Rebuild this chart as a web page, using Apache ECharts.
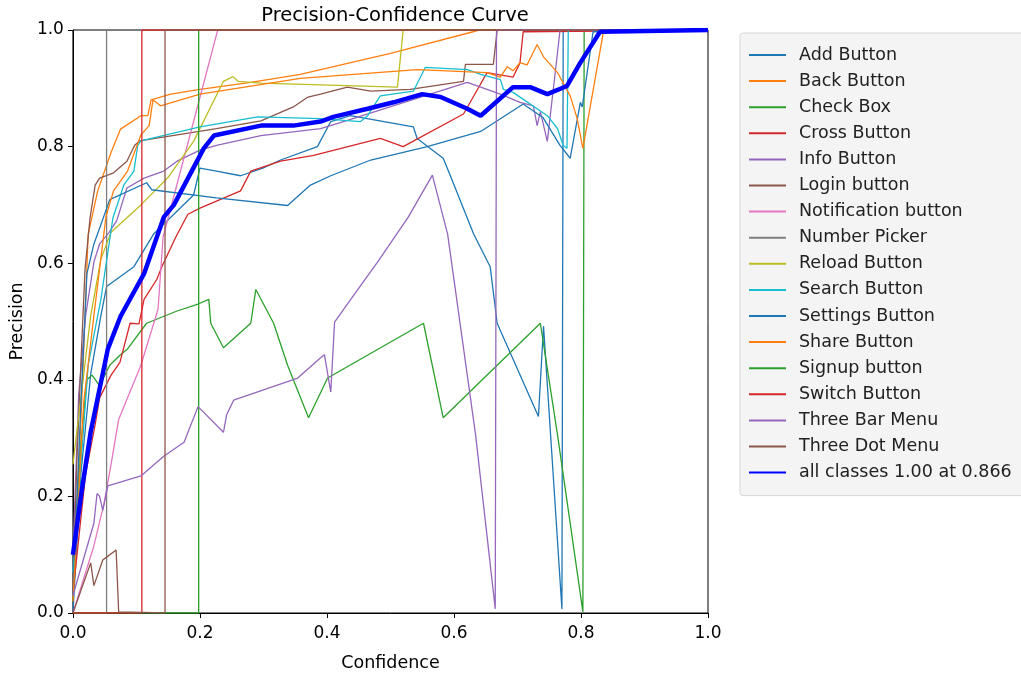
<!DOCTYPE html>
<html>
<head>
<meta charset="utf-8">
<script src="https://cdn.jsdelivr.net/npm/echarts@6/dist/echarts.min.js"></script>
<style>html,body{margin:0;padding:0;background:#fff;}#c{width:1021px;height:677px;}</style>
</head>
<body>
<div id="c"></div>
<script>
// Tick labels
const xTicks = ['0.0', '0.2', '0.4', '0.6', '0.8', '1.0'];
const yTicks = ['0.0', '0.2', '0.4', '0.6', '0.8', '1.0'];
const classNames = ['Add Button','Back Button','Check Box','Cross Button','Info Button','Login button','Notification button','Number Picker','Reload Button','Search Button','Settings Button','Share Button','Signup button','Switch Button','Three Bar Menu','Three Dot Menu','all classes 1.00 at 0.866'];

// [confidence, precision]
const addButton = [[0,0],[0.0126,0.24],[0.028,0.41],[0.044,0.51],[0.053,0.56],[0.096,0.594],[0.127,0.65],[0.19,0.717],[0.2,0.763],[0.226,0.758],[0.264,0.75],[0.299,0.763],[0.327,0.777],[0.385,0.80],[0.406,0.843],[0.437,0.853],[0.536,0.834],[0.542,0.814],[0.583,0.78],[0.594,0.751],[0.631,0.65],[0.657,0.594],[0.668,0.497],[0.733,0.337],[0.741,0.492],[0.770,0.007],[0.772,1.0],[1,1]];
const backButton = [[0,0.035],[0.013,0.34],[0.024,0.65],[0.039,0.724],[0.06,0.79],[0.075,0.83],[0.107,0.853],[0.118,0.853],[0.123,0.88],[0.154,0.89],[0.2,0.898],[0.28,0.91],[0.358,0.924],[0.5,0.96],[0.63,0.997],[0.64,1.0],[1,1]];
const checkBox = [[0,0.02],[0.0126,0.29],[0.022,0.40],[0.03,0.408],[0.042,0.39],[0.058,0.425],[0.074,0.442],[0.086,0.453],[0.116,0.497],[0.164,0.518],[0.197,0.53],[0.214,0.538],[0.217,0.497],[0.237,0.455],[0.28,0.497],[0.288,0.555],[0.316,0.497],[0.338,0.425],[0.371,0.335],[0.401,0.403],[0.552,0.497],[0.583,0.335],[0.736,0.497],[0.763,0.306],[0.803,0.002],[0.805,1.0],[1,1]];
const crossButton = [[0,0.035],[0.02,0.239],[0.035,0.323],[0.042,0.369],[0.06,0.408],[0.074,0.43],[0.09,0.497],[0.104,0.496],[0.112,0.538],[0.132,0.572],[0.14,0.594],[0.162,0.645],[0.181,0.684],[0.201,0.695],[0.264,0.724],[0.28,0.758],[0.327,0.775],[0.379,0.785],[0.484,0.814],[0.52,0.80],[0.615,0.856],[0.637,0.898],[0.652,0.927],[0.693,0.919],[0.704,0.944],[0.709,0.997],[0.712,1.0],[1,1]];
const infoButton = [[0,0.10],[0.009,0.374],[0.02,0.51],[0.033,0.602],[0.042,0.633],[0.057,0.653],[0.069,0.673],[0.085,0.729],[0.112,0.746],[0.143,0.758],[0.164,0.775],[0.2,0.794],[0.226,0.802],[0.296,0.819],[0.39,0.831],[0.426,0.843],[0.621,0.91],[0.673,0.89],[0.704,0.876],[0.725,0.87],[0.731,0.836],[0.736,0.86],[0.747,0.809],[0.763,0.961],[0.767,1.0],[1,1]];
const loginButton = [[0,0.035],[0.006,0.255],[0.013,0.44],[0.019,0.589],[0.027,0.678],[0.035,0.734],[0.042,0.746],[0.064,0.755],[0.085,0.775],[0.097,0.802],[0.105,0.81],[0.226,0.831],[0.296,0.844],[0.347,0.868],[0.37,0.885],[0.39,0.89],[0.432,0.902],[0.469,0.895],[0.531,0.898],[0.615,0.912],[0.618,0.941],[0.662,0.941],[0.668,1.0],[1,1]];
const notificationButton = [[0,0],[0.033,0.115],[0.049,0.188],[0.060,0.255],[0.072,0.332],[0.107,0.425],[0.134,0.521],[0.142,0.645],[0.228,1.0],[1,1]];
const numberPicker = [[0,0],[0.053,0],[0.053,1.0],[1,1]];
const reloadButton = [[0,0.255],[0.028,0.51],[0.044,0.607],[0.06,0.653],[0.107,0.70],[0.149,0.746],[0.19,0.809],[0.237,0.912],[0.252,0.92],[0.26,0.912],[0.296,0.909],[0.511,0.902],[0.52,1.0],[1,1]];
const searchButton = [[0,0.07],[0.0126,0.255],[0.024,0.425],[0.044,0.538],[0.063,0.678],[0.075,0.717],[0.08,0.734],[0.096,0.758],[0.102,0.802],[0.107,0.81],[0.2,0.834],[0.291,0.851],[0.39,0.848],[0.453,0.843],[0.464,0.853],[0.484,0.887],[0.536,0.895],[0.555,0.936],[0.621,0.932],[0.642,0.924],[0.673,0.915],[0.678,0.898],[0.693,0.893],[0.747,0.853],[0.763,0.831],[0.772,0.802],[0.778,0.797],[0.78,1.0],[1,1]];
const settingsButton = [[0,0.03],[0.0126,0.36],[0.022,0.582],[0.033,0.633],[0.042,0.66],[0.058,0.709],[0.116,0.738],[0.124,0.726],[0.226,0.712],[0.338,0.699],[0.374,0.734],[0.406,0.75],[0.469,0.777],[0.558,0.80],[0.642,0.826],[0.709,0.873],[0.74,0.85],[0.767,0.802],[0.783,0.78],[0.799,0.876],[0.802,0.868],[0.819,0.997],[0.821,1.0],[1,1]];
const shareButton = [[0,0.02],[0.017,0.362],[0.033,0.51],[0.052,0.68],[0.064,0.724],[0.086,0.758],[0.107,0.82],[0.12,0.836],[0.126,0.88],[0.138,0.87],[0.2,0.89],[0.358,0.917],[0.542,0.932],[0.652,0.927],[0.673,0.919],[0.684,0.937],[0.693,0.93],[0.704,0.944],[0.715,0.94],[0.731,0.975],[0.741,0.954],[0.763,0.927],[0.783,0.887],[0.794,0.848],[0.803,0.797],[0.835,0.995],[0.837,1.0],[1,1]];
const signupButton = [[0,0],[0.198,0],[0.198,1.0],[1,1]];
const switchButton = [[0,0],[0.1085,0],[0.1085,1.0],[1,1]];
const threeBarMenu = [[0,0.03],[0.033,0.154],[0.038,0.205],[0.042,0.2],[0.047,0.176],[0.055,0.218],[0.107,0.235],[0.143,0.269],[0.175,0.293],[0.197,0.354],[0.237,0.31],[0.242,0.34],[0.253,0.365],[0.354,0.403],[0.39,0.438],[0.396,0.443],[0.406,0.379],[0.412,0.499],[0.429,0.525],[0.481,0.604],[0.528,0.679],[0.566,0.751],[0.59,0.65],[0.634,0.306],[0.665,0.007],[0.667,1.0],[1,1]];
const threeDotMenu = [[0,0],[0.028,0.086],[0.033,0.047],[0.047,0.091],[0.052,0.095],[0.068,0.108],[0.072,0.002],[0.145,0],[0.145,1.0],[1,1]];
const allClasses = [[0,0.10],[0.0126,0.20],[0.028,0.311],[0.055,0.453],[0.075,0.509],[0.112,0.582],[0.143,0.679],[0.159,0.700],[0.206,0.797],[0.222,0.819],[0.296,0.836],[0.347,0.836],[0.390,0.843],[0.410,0.851],[0.464,0.865],[0.505,0.876],[0.550,0.890],[0.579,0.885],[0.621,0.865],[0.642,0.853],[0.693,0.902],[0.720,0.902],[0.747,0.890],[0.778,0.904],[0.799,0.944],[0.830,0.997],[0.833,1.0],[1,1]];

const seriesData = [addButton, backButton, checkBox, crossButton, infoButton, loginButton, notificationButton, numberPicker, reloadButton, searchButton, settingsButton, shareButton, signupButton, switchButton, threeBarMenu, threeDotMenu, allClasses];
const palette = ['#1f77b4','#ff7f0e','#2ca02c','#d62728','#9467bd','#8c564b','#e377c2','#7f7f7f','#bcbd22','#17becf'];

const font = 'DejaVu Sans';
const series = seriesData.map((d, i) => {
  const isAll = i === seriesData.length - 1;
  const color = isAll ? '#0000ff' : palette[i % 10];
  return {
    name: classNames[i],
    type: 'line',
    data: d,
    symbol: 'none',
    showSymbol: false,
    color: color,
    lineStyle: { color: color, width: isAll ? 4.5 : 1.3 },
    z: isAll ? 5 : 2,
    animation: false
  };
});

const chart = echarts.init(document.getElementById('c'), null, { renderer: 'canvas' });
chart.setOption({
  animation: false,
  backgroundColor: '#ffffff',
  title: {
    text: 'Precision-Confidence Curve',
    left: 390, top: 1, textAlign: 'center',
    textStyle: { fontFamily: font, fontSize: 19.5, fontWeight: 'normal', color: '#000' }
  },
  grid: { left: 72, right: 313, top: 30, bottom: 56, show: true, borderColor: '#000', borderWidth: 1, backgroundColor: 'transparent' },
  legend: {
    orient: 'vertical', left: 740, top: 33,
    padding: [13, 40, 14, 8],
    itemWidth: 37, itemHeight: 14, itemGap: 8.1,
    itemStyle: { opacity: 0 },
    backgroundColor: '#f4f4f4', borderColor: '#d8d8d8', borderWidth: 1, borderRadius: 3,
    textStyle: { fontFamily: font, fontSize: 17.5, lineHeight: 18, color: '#222', padding: [0, 0, 0, 8] },
    data: classNames
  },
  xAxis: {
    type: 'value', min: 0, max: 1, interval: 0.2,
    name: 'Confidence', nameLocation: 'middle', nameGap: 41,
    nameTextStyle: { fontFamily: font, fontSize: 17.5, color: '#000' },
    axisLine: { show: true, lineStyle: { color: '#000', width: 1 } },
    axisTick: { show: true, length: 5, lineStyle: { color: '#000' } },
    axisLabel: { fontFamily: font, fontSize: 17, color: '#000', margin: 12, formatter: (v) => xTicks[Math.round(v / 0.2)] },
    splitLine: { show: false }
  },
  yAxis: {
    type: 'value', min: 0, max: 1, interval: 0.2,
    name: 'Precision', nameLocation: 'middle', nameGap: 46, nameRotate: 90,
    nameTextStyle: { fontFamily: font, fontSize: 17.5, color: '#000' },
    axisLine: { show: true, lineStyle: { color: '#000', width: 1 } },
    axisTick: { show: true, length: 5, lineStyle: { color: '#000' } },
    axisLabel: { fontFamily: font, fontSize: 17, color: '#000', margin: 9, formatter: (v) => yTicks[Math.round(v / 0.2)] },
    splitLine: { show: false }
  },
  series: series
});
</script>
</body>
</html>
